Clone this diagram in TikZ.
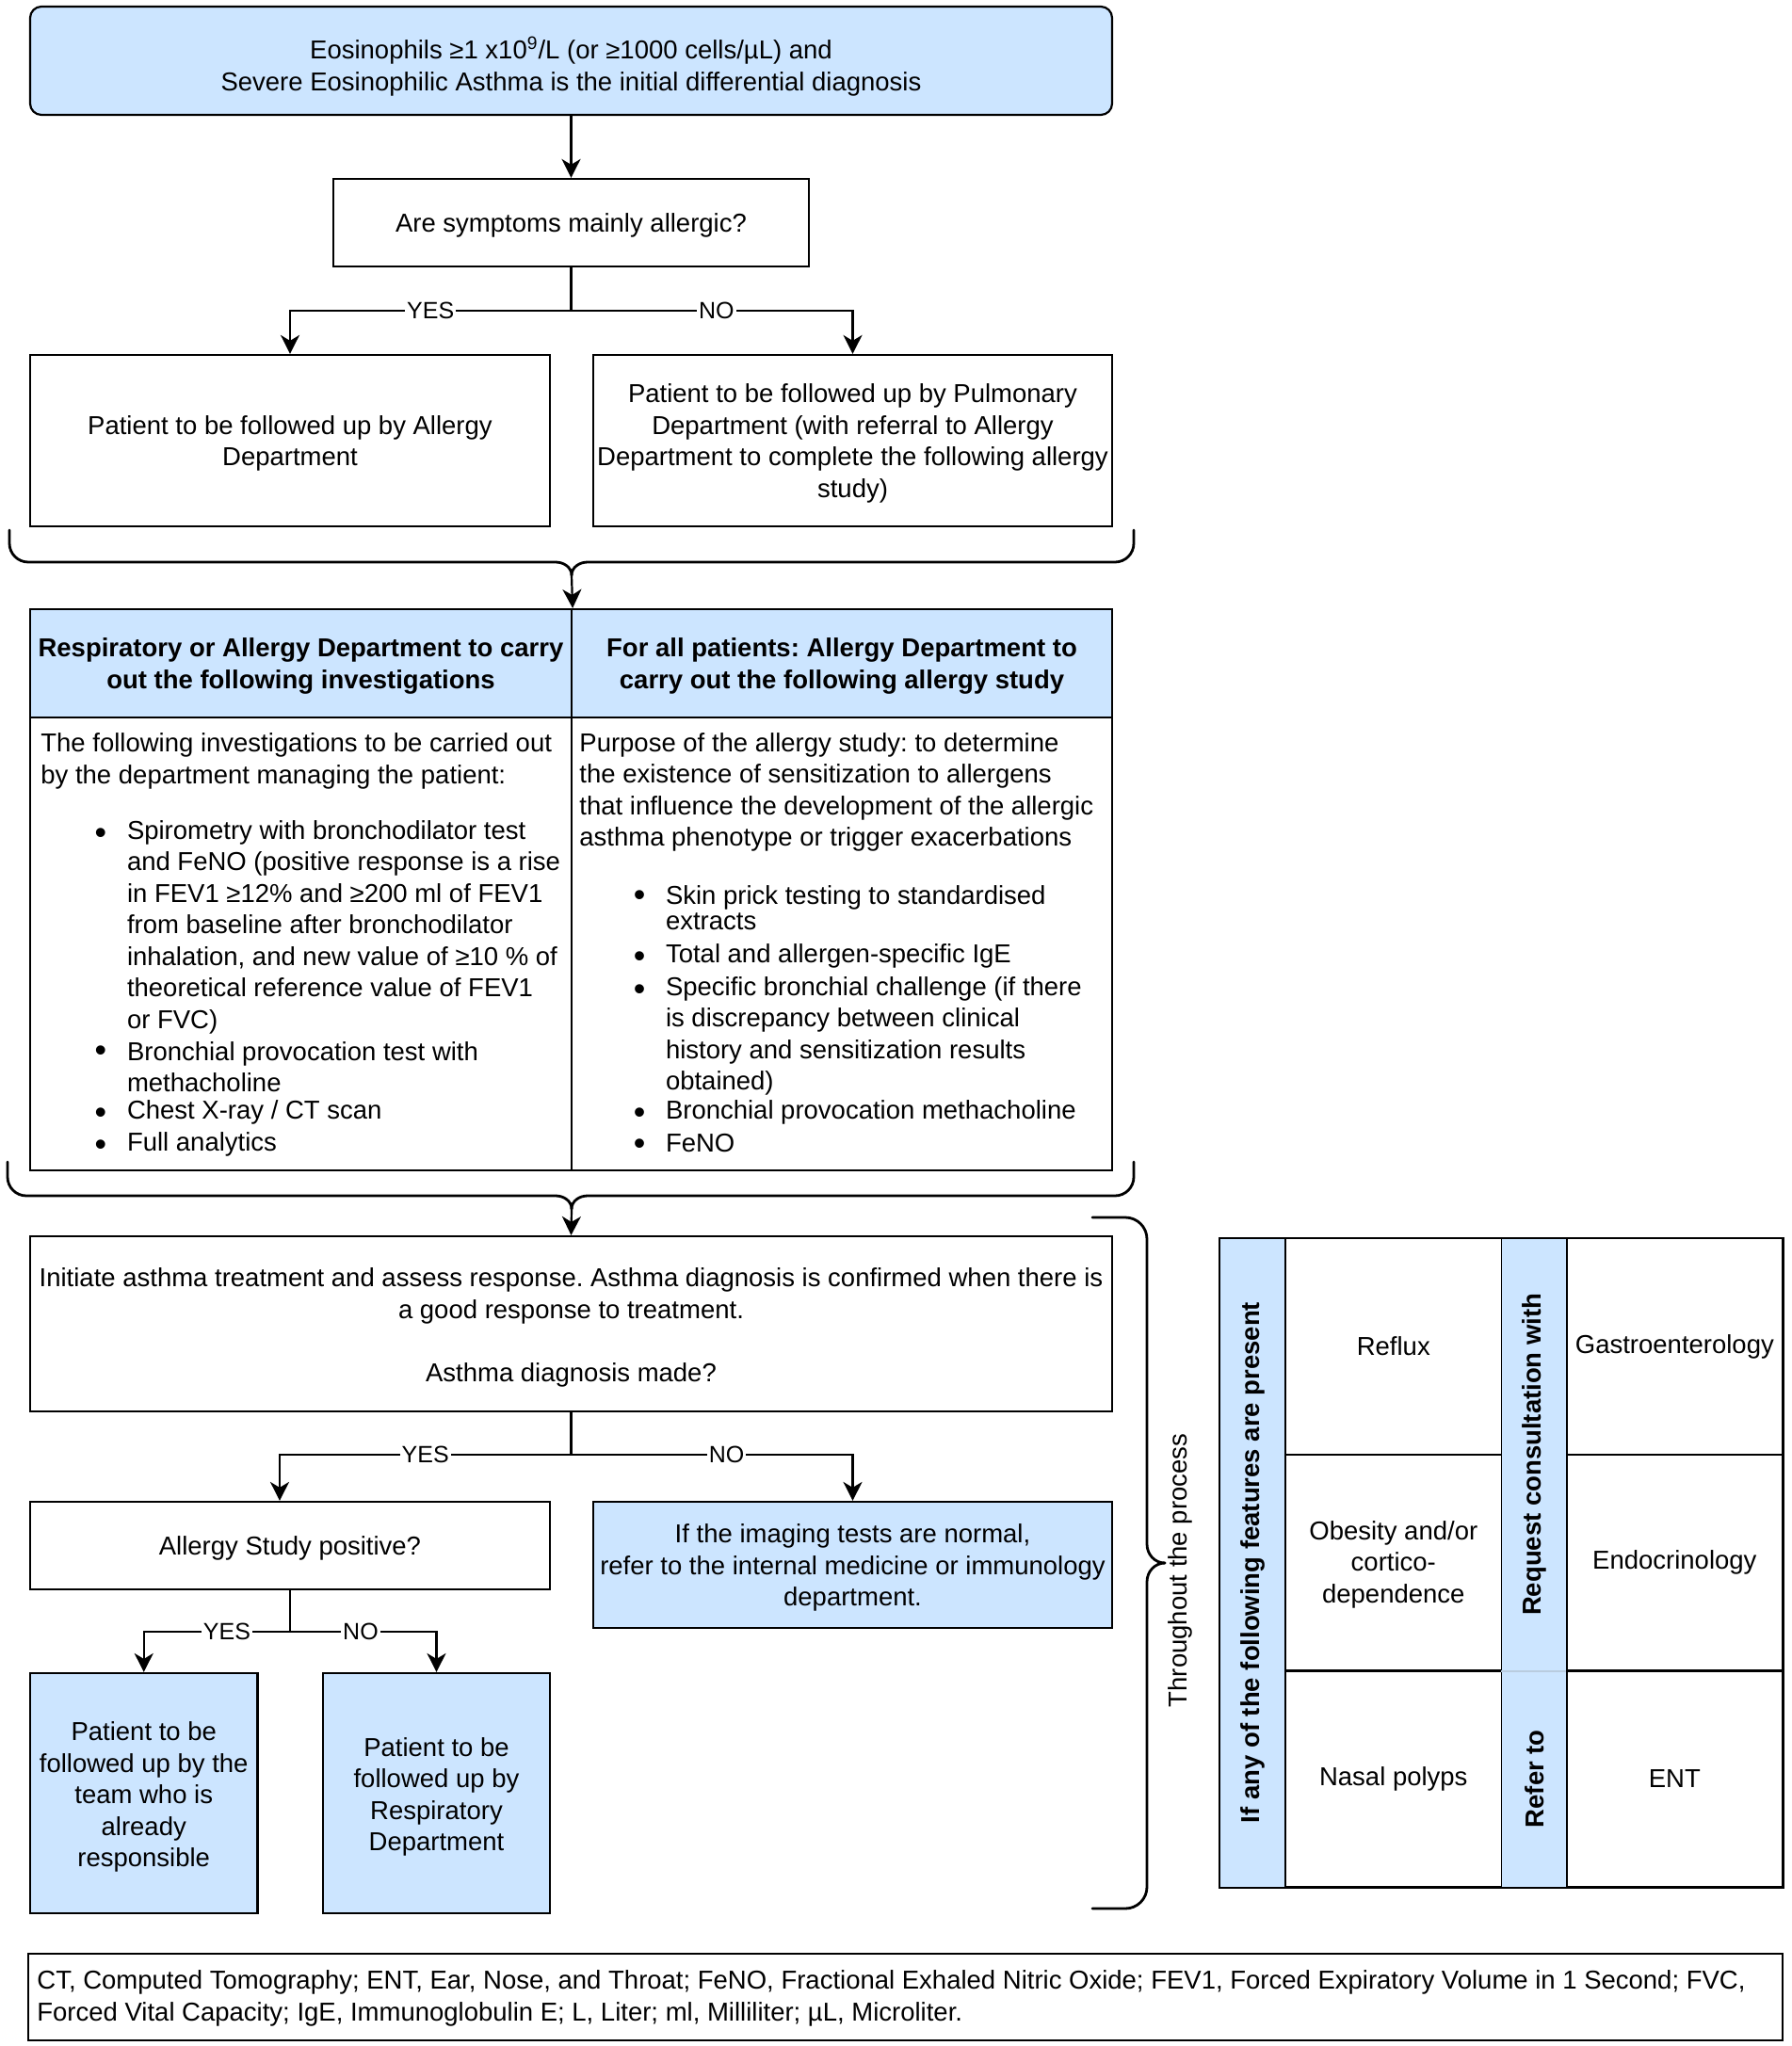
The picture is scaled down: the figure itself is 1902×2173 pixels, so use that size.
\documentclass[tikz,border=0pt]{standalone}
\usepackage{fontspec}
\setmainfont{Liberation Sans}
\usetikzlibrary{arrows.meta}
\definecolor{lblue}{HTML}{CCE5FF}
\frenchspacing
\newcommand\mainsz{\fontsize{13.75pt}{16.75pt}\selectfont}
\newcommand\lblsz{\fontsize{12.5pt}{15pt}\selectfont}
\newcommand\bigbul{\scalebox{1.3}{\textbullet}}
% [text shift], style, name, x1, y1, x2, y2, text
\newcommand\mkbox[8][-1.5pt]{%
  \node[#2, minimum width={(#6-#4)*0.5pt}, minimum height={(#7-#5)*0.5pt}] (#3) at ({(#4+#6)/2},{(#5+#7)/2}) {};
  \node[#2, draw=none, fill=none] (#3-t) at ([yshift=#1]#3.center) {#8};}
\tikzset{
  box/.style={draw=black, line width=1.1pt, inner sep=0pt, align=center, font=\mainsz},
  bluebox/.style={box, fill=lblue},
  hdr/.style={box, fill=lblue, font=\mainsz\bfseries},
  bluecell/.style={draw=none, fill=lblue, inner sep=0pt, align=center, font=\mainsz\bfseries},
  txt/.style={inner sep=0pt, anchor=west, align=left, font=\mainsz},
  bul/.style={inner sep=0pt, anchor=center, font=\mainsz, yshift=-1.5pt},
  lbl/.style={fill=white, inner sep=1pt, font=\lblsz},
  conn/.style={line width=1.1pt},
  arr/.style={line width=1.1pt, -{Stealth[length=10pt,width=10pt,inset=3pt]}},
  bracestyle/.style={line width=1.4pt, line cap=round}
}
\begin{document}
\begin{tikzpicture}[x=0.5pt,y=-0.5pt]
\useasboundingbox (0,0) rectangle (1902,2173);
\fill[white] (0,0) rectangle (1902,2173);

% top
\mkbox[-3pt]{bluebox, rounded corners=6pt}{top}{32}{7}{1181}{122}{Eosinophils ≥1 x10\textsuperscript{9}/L (or ≥1000 cells/µL) and\\Severe Eosinophilic Asthma is the initial differential diagnosis}
\mkbox{box}{q}{354}{190}{859}{283}{Are symptoms mainly allergic?}
\mkbox{box}{lbox}{32}{377}{584}{559}{Patient to be followed up by Allergy\\Department}
\mkbox{box}{rbox}{630}{377}{1181}{559}{Patient to be followed up by Pulmonary\\Department (with referral to Allergy\\Department to complete the following allergy\\study)}

\draw[arr] (top.south) -- (q.north);
\coordinate (j1) at (606.5,330);
\draw[conn] (q.south) -- (j1);
\draw[arr] (j1) -| (lbox.north) node[lbl,pos=0.25]{YES};
\draw[arr] (j1) -| (rbox.north) node[lbl,pos=0.258]{NO};

% brace 1
\coordinate (br1) at (607,611);
\draw[bracestyle] (10,563) -- (10,577) to[out=-90,in=180] (30,597) -- (590,597) to[out=0,in=90] (br1);
\draw[bracestyle] (1204,563) -- (1204,577) to[out=-90,in=0] (1184,597) -- (624,597) to[out=180,in=90] (br1);

% table
\mkbox{hdr}{h1}{32}{647}{607}{762}{Respiratory or Allergy Department to carry\\out the following investigations}
\mkbox{hdr}{h2}{607}{647}{1181}{762}{For all patients: Allergy Department to\\carry out the following allergy study}
\mkbox{box}{c1}{32}{762}{607}{1243}{}
\mkbox{box}{c2}{607}{762}{1181}{1243}{}
\draw[arr] (br1) -- (h1.north east);

% left column body
\node[txt] (l0) at (43,808.5) {The following investigations to be carried out\\by the department managing the patient:};
\node[bul] (lb1) at (107,885) {\bigbul};
\node[txt] (l1) at (134.6,984.5) {Spirometry with bronchodilator test\\and FeNO (positive response is a rise\\in FEV1 ≥12\% and ≥200 ml of FEV1\\from baseline after bronchodilator\\inhalation, and new value of ≥10 \% of\\theoretical reference value of FEV1\\or FVC)};
\node[bul] (lb2) at (107,1116) {\bigbul};
\node[txt] (l2) at (134.6,1133) {Bronchial provocation test with\\methacholine};
\node[bul] (lb3) at (107,1182) {\bigbul};
\node[txt] (l3) at (134.6,1181) {Chest X-ray / CT scan};
\node[bul] (lb4) at (107,1216) {\bigbul};
\node[txt] (l4) at (134.6,1215) {Full analytics};

% right column body
\node[txt] (r0) at (615,841.5) {Purpose of the allergy study: to determine\\the existence of sensitization to allergens\\that influence the development of the allergic\\asthma phenotype or trigger exacerbations};
\node[bul] (rb1) at (679,951) {\bigbul};
\node[txt] (r1) at (706.6,964) {Skin prick testing to standardised\\[-3pt]extracts};
\node[bul] (rb2) at (679,1016.6) {\bigbul};
\node[txt] (r2) at (706.6,1015.6) {Total and allergen-specific IgE};
\node[bul] (rb3) at (679,1051) {\bigbul};
\node[txt] (r3) at (706.6,1100.5) {Specific bronchial challenge (if there\\is discrepancy between clinical\\history and sensitization results\\obtained)};
\node[bul] (rb4) at (679,1182) {\bigbul};
\node[txt] (r4) at (706.6,1181) {Bronchial provocation methacholine};
\node[bul] (rb5) at (679,1215) {\bigbul};
\node[txt] (r5) at (706.6,1214) {FeNO};

% brace 2
\coordinate (br2) at (607,1284);
\draw[bracestyle] (8,1234) -- (8,1250) to[out=-90,in=180] (28,1270) -- (590,1270) to[out=0,in=90] (br2);
\draw[bracestyle] (1204,1234) -- (1204,1250) to[out=-90,in=0] (1184,1270) -- (624,1270) to[out=180,in=90] (br2);

% lower flow
\mkbox[-2pt]{box}{init}{32}{1313}{1181}{1499}{Initiate asthma treatment and assess response. Asthma diagnosis is confirmed when there is\\a good response to treatment.\\[16.75pt]Asthma diagnosis made?}
\draw[arr] (br2) -- (init.north);
\mkbox{box}{allg}{32}{1595}{584}{1688}{Allergy Study positive?}
\mkbox{bluebox}{img}{630}{1595}{1181}{1729}{If the imaging tests are normal,\\refer to the internal medicine or immunology\\department.}
\coordinate (j2) at (606.5,1545);
\draw[conn] (init.south) -- (j2);
\draw[arr] (j2) -| ([xshift=-5.5pt]allg.north) node[lbl,pos=0.25]{YES};
\draw[arr] (j2) -| (img.north) node[lbl,pos=0.276]{NO};

\mkbox[-2pt]{bluebox}{pa}{32}{1777}{273.5}{2032}{Patient to be\\followed up by the\\team who is\\already\\responsible}
\mkbox[-2pt]{bluebox}{pb}{343}{1777}{584}{2032}{Patient to be\\followed up by\\Respiratory\\Department}
\coordinate (j3) at (308,1733);
\draw[conn] (allg.south) -- (j3);
\draw[arr] (j3) -| (pa.north) node[lbl,pos=0.216]{YES};
\draw[arr] (j3) -| (pb.north) node[lbl,pos=0.241]{NO};

% right brace
\draw[bracestyle] (1160,1293) -- (1195,1293) to[out=0,in=90] (1218,1316) -- (1218,1640) to[out=-90,in=180] (1237,1660);
\draw[bracestyle] (1160,2027) -- (1195,2027) to[out=0,in=-90] (1218,2004) -- (1218,1680) to[out=90,in=180] (1237,1660);
\node[rotate=90, inner sep=0pt, font=\mainsz] (thr) at (1253,1668) {Throughout the process};

% right table
\mkbox[0pt]{bluecell}{f1}{1295}{1315}{1365}{2004}{}
\node[rotate=90, inner sep=0pt, font=\mainsz\bfseries] (f1t) at (f1.center) {If any of the following features are present};
\mkbox[0pt]{box}{reflux}{1365}{1315}{1594.6}{1545}{Reflux}
\mkbox[-1pt]{box}{obes}{1365}{1545}{1594.6}{1774.5}{Obesity and/or\\cortico-\\dependence}
\mkbox[0pt]{box}{nasal}{1365}{1774.5}{1594.6}{2004}{Nasal polyps}
\mkbox[0pt]{bluecell}{req}{1594.6}{1315}{1663.7}{1774.5}{}
\node[rotate=90, inner sep=0pt, font=\mainsz\bfseries] (reqt) at (req.center) {Request consultation with};
\mkbox[0pt]{bluecell}{ref}{1594.6}{1774.5}{1663.7}{2004}{}
\node[rotate=90, inner sep=0pt, font=\mainsz\bfseries] (reft) at (ref.center) {Refer to};
\draw[line width=0.6pt, color=lblue!75!gray] (req.south west) -- (req.south east);
\mkbox[0pt]{box}{gastro}{1663.7}{1315}{1893}{1545}{Gastroenterology}
\mkbox[0pt]{box}{endo}{1663.7}{1545}{1893}{1774.5}{Endocrinology}
\mkbox[0pt]{box}{ent}{1663.7}{1774.5}{1893}{2004}{ENT}
\draw[line width=1.1pt] (f1.north west) rectangle (ent.south east);

% legend
\mkbox{box}{leg}{30}{2075}{1893}{2167}{}
\node[txt] (legt) at (39,2122.5) {CT, Computed Tomography; ENT, Ear, Nose, and Throat; FeNO, Fractional Exhaled Nitric Oxide; FEV1, Forced Expiratory Volume in 1 Second; FVC,\\Forced Vital Capacity; IgE, Immunoglobulin E; L, Liter; ml, Milliliter; µL, Microliter.};
\end{tikzpicture}
\end{document}
